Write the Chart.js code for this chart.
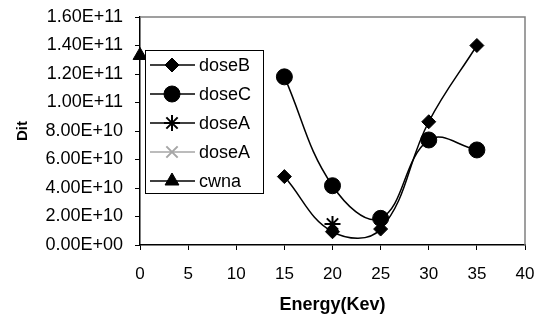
<!DOCTYPE html>
<html>
<head>
<meta charset="utf-8">
<script src="https://cdn.jsdelivr.net/npm/chart.js@4"></script>
<style>
  html, body { margin: 0; padding: 0; background: #fff; }
  #wrap { width: 546px; height: 320px; }
</style>
</head>
<body>
<div id="wrap"><canvas id="canvas" width="546" height="320"></canvas></div>
<script>
// data
var energy = [0, 15, 20, 25, 30, 35];
var doseB = [null, 4.8e10, 0.93e10, 1.12e10, 8.65e10, 1.40e11];
var doseC = [null, 1.18e11, 4.16e10, 1.87e10, 7.37e10, 6.67e10];
var doseA1 = [null, null, 1.47e10, null, null, null];
var doseA2 = [null, null, null, 1.9e10, null, null];
var cwna = [1.33e11, null, null, null, null, null];

function pts(arr) {
  var out = [];
  for (var i = 0; i < energy.length; i++) {
    if (arr[i] !== null) out.push({ x: energy[i], y: arr[i] });
  }
  return out;
}

function sci(v) {
  var s = v.toExponential(2).toUpperCase();
  var p = s.split('E');
  var e = parseInt(p[1], 10);
  var sign = e < 0 ? '-' : '+';
  e = Math.abs(e);
  return p[0] + 'E' + sign + (e < 10 ? '0' + e : '' + e);
}

var FONT = 'Liberation Sans, Arial, sans-serif';

// box on top and right, legend inside the plot
var frame = {
  id: 'frame',
  beforeDatasetsDraw: function (chart) {
    var a = chart.chartArea, c = chart.ctx;
    c.save();
    c.strokeStyle = '#808080';
    c.lineWidth = 1.5;
    c.beginPath();
    c.moveTo(a.left, a.top);
    c.lineTo(a.right, a.top);
    c.lineTo(a.right, a.bottom);
    c.stroke();
    c.restore();
  },
  afterDraw: function (chart) {
    var c = chart.ctx;
    var x0 = 145, y0 = 50, w = 118, h = 143;
    c.save();
    c.fillStyle = '#fff';
    c.fillRect(x0, y0, w, h);
    c.strokeStyle = '#000';
    c.lineWidth = 1;
    c.strokeRect(x0 + 0.5, y0 + 0.5, w, h);
    chart.data.datasets.forEach(function (ds, i) {
      var y = 65 + i * 29;
      c.strokeStyle = ds.borderColor;
      c.lineWidth = 1.5;
      c.beginPath();
      c.moveTo(150, y);
      c.lineTo(195, y);
      c.stroke();
      c.fillStyle = ds.pointBackgroundColor;
      c.strokeStyle = ds.pointBorderColor;
      c.lineWidth = ds.pointBorderWidth;
      Chart.helpers.drawPoint(c, {
        pointStyle: ds.pointStyle,
        rotation: 0,
        radius: ds.pointRadius,
        borderWidth: ds.pointBorderWidth
      }, 172, y);
      c.fillStyle = '#000';
      c.font = '18px ' + FONT;
      c.textBaseline = 'middle';
      c.fillText(ds.label, 199, y + 1);
    });
    c.restore();
  }
};

var mk = function (label, arr, style, r, color, bw) {
  return {
    label: label,
    data: pts(arr),
    borderColor: color,
    backgroundColor: color,
    pointBackgroundColor: color,
    pointBorderColor: color,
    pointStyle: style,
    pointRadius: r,
    pointHoverRadius: r,
    pointBorderWidth: bw,
    borderWidth: 1.5,
    tension: 0.4,
    fill: false
  };
};

const ctx = document.getElementById('canvas').getContext('2d');
const myChart = new Chart(ctx, {
  type: 'line',
  data: {
    datasets: [
      mk('doseB', doseB, 'rectRot', 7, '#000', 1),
      mk('doseC', doseC, 'circle', 8, '#000', 1),
      mk('doseA', doseA1, 'star', 8, '#000', 2),
      mk('doseA', doseA2, 'crossRot', 8, '#a6a6a6', 2),
      mk('cwna', cwna, 'triangle', 8, '#000', 1)
    ]
  },
  plugins: [frame],
  options: {
    responsive: false,
    animation: false,
    clip: false,
    layout: { padding: { top: 17, right: 21, left: 0, bottom: 0 } },
    plugins: {
      legend: { display: false },
      tooltip: { enabled: false }
    },
    scales: {
      x: {
        type: 'linear',
        min: 0,
        max: 40,
        ticks: {
          stepSize: 5,
          color: '#000',
          padding: 14,
          font: { family: FONT, size: 17 }
        },
        grid: { drawOnChartArea: false, tickLength: 5, color: '#000' },
        border: { color: '#000', width: 1.5 },
        title: {
          display: true,
          text: 'Energy(Kev)',
          color: '#000',
          font: { family: FONT, size: 18, weight: 'bold' },
          padding: { top: 12 }
        },
        afterFit: function (s) {
          s.height = 75;
          s.paddingLeft = 0;
          s.paddingRight = 0;
        }
      },
      y: {
        min: 0,
        max: 1.6e11,
        ticks: {
          stepSize: 2e10,
          color: '#000',
          padding: 12,
          font: { family: FONT, size: 18 },
          callback: function (v) { return sci(v); }
        },
        grid: { drawOnChartArea: false, tickLength: 5, color: '#000' },
        border: { color: '#000', width: 1.5 },
        title: {
          display: true,
          text: 'Dit',
          color: '#000',
          font: { family: FONT, size: 15, weight: 'bold' },
          padding: { top: 14, bottom: 0 }
        },
        afterFit: function (s) {
          s.width = 140;
          s.paddingTop = 0;
          s.paddingBottom = 0;
        }
      }
    }
  }
});
</script>
</body>
</html>
